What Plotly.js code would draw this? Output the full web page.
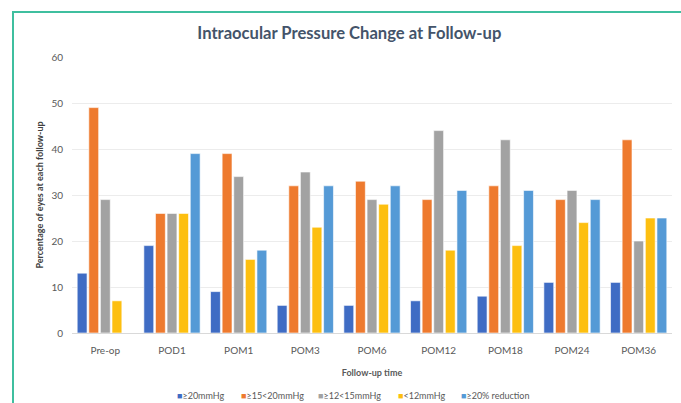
<!DOCTYPE html>
<html>
<head>
<meta charset="utf-8">
<script src="https://cdn.plot.ly/plotly-3.0.1.min.js"></script>
<style>
  html, body { margin: 0; padding: 0; background: #fff; }
  #wrap { position: relative; width: 681px; height: 403px; overflow: hidden; }
  #chart { width: 681px; height: 403px; }
  #frame { position: absolute; left: 12px; top: 11px; right: -10px; bottom: -10px;
           border-left: 2px solid #3fbf9f; border-top: 2px solid #3fbf9f; pointer-events: none; }
</style>
</head>
<body>
<div id="wrap">
  <div id="chart"></div>
  <div id="frame"></div>
</div>
<script>
const categories = ["Pre-op", "POD1", "POM1", "POM3", "POM6", "POM12", "POM18", "POM24", "POM36"];
const seriesNames = ["≥20mmHg", "≥15<20mmHg", "≥12<15mmHg", "<12mmHg", "≥20% reduction"];
const ge20 =      [13, 19,  9,  6,  6,  7,  8, 11, 11];
const ge15lt20 =  [49, 26, 39, 32, 33, 29, 32, 29, 42];
const ge12lt15 =  [29, 26, 34, 35, 29, 44, 42, 31, 20];
const lt12 =      [ 7, 26, 16, 23, 28, 18, 19, 24, 25];
const reduction = [null, 39, 18, 32, 32, 31, 31, 29, 25];
const yTicks = [0, 10, 20, 30, 40, 50, 60];

const seriesValues = [ge20, ge15lt20, ge12lt15, lt12, reduction];
const colors = ["#3f6cc4", "#ee7a2e", "#a2a2a2", "#fdbf10", "#559ad6"];

const traces = seriesValues.map((vals, i) => ({
  type: "bar",
  name: seriesNames[i],
  x: categories,
  y: vals,
  marker: { color: colors[i], line: { color: "rgba(255,255,255,0.6)", width: 1 } },
  hoverinfo: "x+y+name"
}));

// legend drawn as text annotations (compact, like the original)
const legendPx = [175, 239, 316, 396, 459];
const plotLeft = 72, plotWidth = 600;
const legendAnnotations = seriesNames.map((name, i) => ({
  xref: "paper", yref: "paper",
  x: (legendPx[i] - plotLeft) / plotWidth, xanchor: "left",
  y: -0.228, yanchor: "middle",
  showarrow: false,
  text: "<span style='color:" + colors[i] + "'>■</span>" + name,
  font: { size: 9, color: "#595959" }
}));

const layout = {
  width: 681, height: 403,
  margin: { l: 72, r: 9, t: 57, b: 70 },
  paper_bgcolor: "rgba(0,0,0,0)",
  plot_bgcolor: "#fff",
  barmode: "group",
  bargap: 0.13,
  bargroupgap: 0.15,
  font: { family: "Lato, 'Open Sans', sans-serif", color: "#595959" },
  title: {
    text: "<b>Intraocular Pressure Change at Follow-up</b>",
    font: { family: "Lato, 'Open Sans', sans-serif", size: 16.6, color: "#44546a" },
    x: 0.513, xanchor: "center", y: 0.918, yanchor: "middle"
  },
  xaxis: {
    type: "category",
    tickfont: { size: 10, color: "#595959" },
    showgrid: false,
    showline: true, linecolor: "#d9d9d9", linewidth: 1,
    ticks: "",
    ticklabelstandoff: 8,
    title: { text: "<b>Follow-up time</b>", font: { size: 9, color: "#595959" }, standoff: 14 }
  },
  yaxis: {
    range: [0, 60],
    tickvals: yTicks,
    tickfont: { size: 10, color: "#595959" },
    showgrid: true, gridcolor: "#ececec", gridwidth: 1,
    zeroline: false,
    ticks: "", ticklen: 0,
    ticklabelstandoff: 8,
    title: { text: "<b>Percentage of eyes at each follow-up</b>", font: { size: 9, color: "#404040" }, standoff: 6 }
  },
  showlegend: false,
  annotations: legendAnnotations
};

Plotly.newPlot("chart", traces, layout, { displayModeBar: false, staticPlot: true });
</script>
</body>
</html>
